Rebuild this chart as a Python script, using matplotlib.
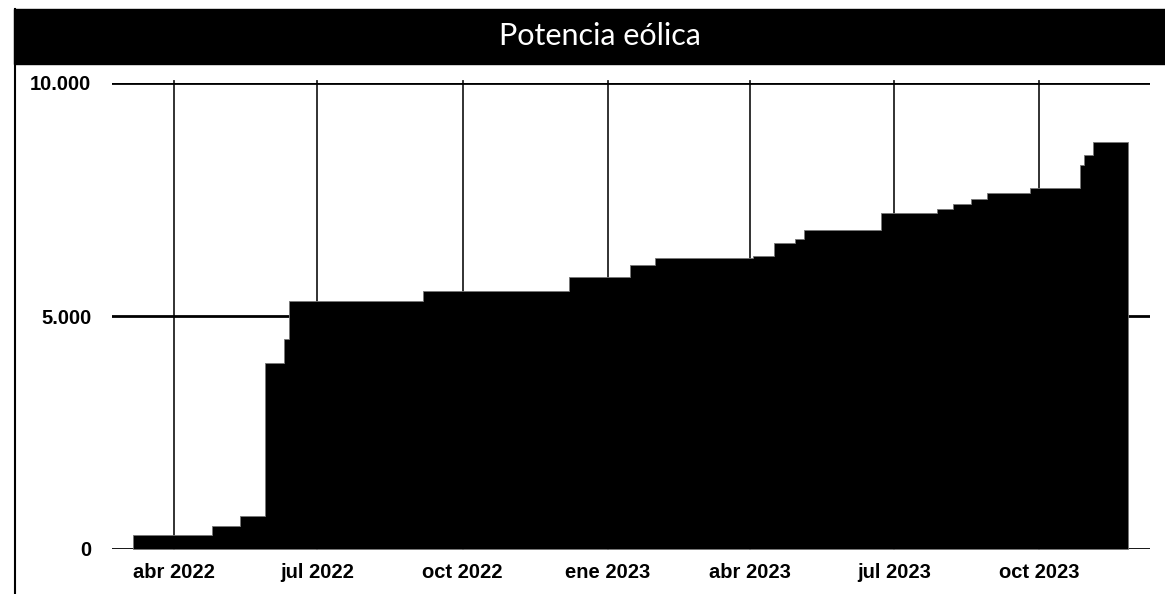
import matplotlib
matplotlib.use("Agg")
import matplotlib.pyplot as plt
import pandas as pd
from matplotlib.patches import Rectangle
from matplotlib.lines import Line2D

# fechas de cambio y potencia acumulada (MW)
fechas = ["2022-03-06", "2022-04-25", "2022-05-13", "2022-05-29", "2022-06-10",
          "2022-06-13", "2022-09-06", "2022-12-07", "2023-01-15", "2023-01-31",
          "2023-04-03", "2023-04-16", "2023-04-29", "2023-05-05", "2023-06-23",
          "2023-07-28", "2023-08-07", "2023-08-19", "2023-08-29", "2023-09-25",
          "2023-10-27", "2023-10-29", "2023-11-04", "2023-11-26"]
potencia = [300, 500, 710, 4000, 4500, 5330, 5540, 5840, 6090, 6250,
            6290, 6570, 6650, 6850, 7210, 7300, 7400, 7510, 7640, 7750,
            8240, 8450, 8740, 8740]

ticks = ["2022-04-01", "2022-07-01", "2022-10-01", "2023-01-01",
         "2023-04-01", "2023-07-01", "2023-10-01"]
tick_labels = ["abr 2022", "jul 2022", "oct 2022", "ene 2023",
               "abr 2023", "jul 2023", "oct 2023"]
y_ticks = [0, 5000, 10000]
y_labels = ["0", "5.000", "10.000"]
titulo = "Potencia eólica"

x = pd.to_datetime(fechas)
tk = pd.to_datetime(ticks)

W, H = 1165, 594
fig = plt.figure(figsize=(W / 100, H / 100), dpi=100)

# marco: banda negra del titulo y borde izquierdo
fig.patches.append(Rectangle((14 / W, 1 - 64 / H), 1, 55 / H, transform=fig.transFigure,
                             color="black", zorder=0))
fig.lines.append(Line2D([14.5 / W, 14.5 / W], [0, 1 - 9 / H], transform=fig.transFigure,
                        color="black", lw=1.5))
fig.text(600 / W, 1 - 36 / H, titulo, color="white", fontsize=22,
         family=["Lato", "DejaVu Sans"], ha="center", va="center")

ax = fig.add_axes([112 / W, 1 - 549 / H, (1150 - 112) / W, (549 - 83) / H])

ax.fill_between(x, potencia, step="post", color="black", lw=0.6, edgecolor="#777777", zorder=3)

for d in tk:
    ax.plot([d, d], [0, 10040], color="#222222", lw=1.3, zorder=2, clip_on=False)
for v in y_ticks:
    ax.axhline(v, color="black", lw=2, zorder=2)

ax.set_xlim(pd.Timestamp("2022-02-21"), pd.Timestamp("2023-12-10"))
ax.set_ylim(0, 10000)
ax.set_xticks(tk)
ax.set_xticklabels(tick_labels)
ax.set_yticks(y_ticks)
ax.set_yticklabels(y_labels)
ax.tick_params(length=0)
ax.tick_params(axis="x", pad=10)
ax.tick_params(axis="y", pad=15)
for lab in ax.get_xticklabels() + ax.get_yticklabels():
    lab.set_fontfamily("Liberation Sans")
    lab.set_fontweight("bold")
    lab.set_fontsize(14.5)
for s in ax.spines.values():
    s.set_visible(False)

fig.savefig("out.png", dpi=100)
